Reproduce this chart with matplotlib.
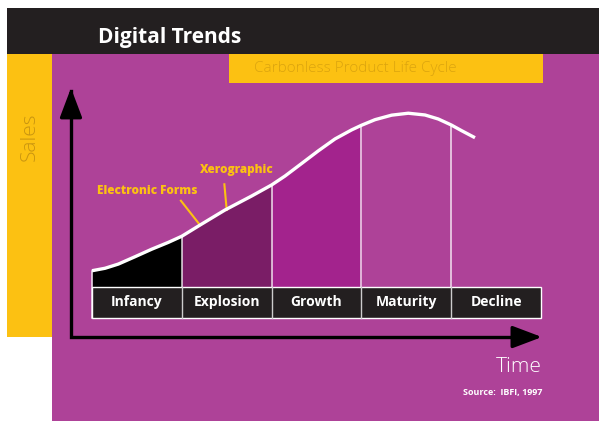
import matplotlib
matplotlib.use("Agg")
import matplotlib.pyplot as plt
from matplotlib.patches import Rectangle

# product life cycle curve (time in stage units, sales in % of peak)
time = [0, 0.145, 0.293, 0.479, 0.665, 0.85, 1.0, 1.203, 1.481, 1.778, 2.0, 2.149,
        2.335, 2.52, 2.706, 2.892, 3.0, 3.151, 3.337, 3.522, 3.708, 3.856, 4.0,
        4.117, 4.265]
sales = [9.3, 10.7, 13.1, 17.3, 21.6, 25.5, 29.0, 35.4, 44.0, 52.0, 58.3, 63.4,
         70.6, 77.8, 84.6, 89.8, 92.4, 95.6, 98.2, 99.3, 98.3, 96.0, 92.6,
         89.3, 85.3]
stages = ["Infancy", "Explosion", "Growth", "Maturity", "Decline"]
stage_fills = ["#000000", "#7a1d66", "#a3238d", None, None]
callouts = ["Electronic Forms", "Xerographic"]

W, H = 599, 421
MAGENTA = "#ae4298"
YELLOW = "#fcc112"
DARK = "#231f20"

fig = plt.figure(figsize=(W / 100, H / 100), dpi=100)
fig.patch.set_facecolor("white")


def px_rect(x0, y0, x1, y1, color):
    fig.add_artist(Rectangle((x0 / W, 1 - y1 / H), (x1 - x0) / W, (y1 - y0) / H,
                             transform=fig.transFigure, color=color, zorder=0, lw=0))


px_rect(52, 54, 599, 421, MAGENTA)
px_rect(7, 8, 599, 54, DARK)
px_rect(7, 54, 52, 337, YELLOW)
px_rect(229, 54, 543, 83, YELLOW)

fig.text(98 / W, 1 - 38 / H, "Digital Trends", color="white", fontsize=15,
         fontweight="bold", family="Open Sans", ha="left", va="center")
fig.text(355 / W, 1 - 69 / H, "Carbonless Product Life Cycle", color="#dba40f",
         fontsize=11, family="Open Sans", fontweight="light", ha="center", va="center")
fig.text(30 / W, 1 - 137 / H, "Sales", color="#c99510", fontsize=15, rotation=90,
         family="Open Sans", fontweight="light", ha="center", va="center")

ax = fig.add_axes([0, 0, 1, 1])
ax.set_xlim(-92 / 89.8, 507 / 89.8)
ax.set_ylim(-134 / 1.75, 287 / 1.75)
ax.axis("off")
ax.patch.set_alpha(0)

# coloured stage areas under the curve
for i, c in enumerate(stage_fills):
    if c is None:
        continue
    xs = [t for t in time if i <= t <= i + 1]
    ys = [s for t, s in zip(time, sales) if i <= t <= i + 1]
    ax.fill_between(xs, 0, ys, color=c, lw=0, zorder=2)

# stage dividers
box_h = 17.7
for i in range(5):
    top = sales[time.index(float(i))]
    ax.plot([i, i], [-box_h, top], color="white", lw=1.1, alpha=0.85, zorder=3)

ax.plot(time, sales, color="white", lw=2.4, solid_capstyle="butt",
        solid_joinstyle="round", zorder=5)

# stage label box
ax.add_patch(Rectangle((0, -box_h), 5, box_h, facecolor=DARK, edgecolor="white",
                       lw=1, zorder=4))
for i in range(1, 5):
    ax.plot([i, i], [-box_h, 0], color="#cccccc", lw=1, zorder=4)
for i, name in enumerate(stages):
    ax.text(i + 0.5, -box_h / 2, name, color="white", fontsize=10, fontweight="bold",
            family="Open Sans", ha="center", va="center", zorder=6)

# axes with arrows
ax_x, ax_y = -0.234, -28.6
ax.plot([ax_x, ax_x, 4.9], [112, ax_y, ax_y], color="black", lw=2.4,
        solid_joinstyle="miter", zorder=6)
head = "-|>,head_length=0.9,head_width=0.34"
ax.annotate("", xy=(ax_x, 113.7), xytext=(ax_x, 100),
            arrowprops=dict(arrowstyle=head, color="black", lw=2.4,
                            mutation_scale=20, shrinkA=0, shrinkB=0), zorder=6)
ax.annotate("", xy=(5.01, ax_y), xytext=(4.8, ax_y),
            arrowprops=dict(arrowstyle=head, color="black", lw=2.4,
                            mutation_scale=20, shrinkA=0, shrinkB=0), zorder=6)

ax.text(5.01, -45.7, "Time", color="white", fontsize=15, family="Open Sans",
        fontweight="light", ha="right", va="center")
ax.text(5.01, -60, "Source:  IBFI, 1997", color="white", fontsize=6.5,
        family="Open Sans", fontweight="bold", ha="right", va="center")

# callouts
ax.text(0.618, 54.9, callouts[0], color=YELLOW, fontsize=8.5, fontweight="heavy",
        family="Open Sans", ha="center", va="center", zorder=6)
ax.plot([0.99, 1.203], [49.3, 35.4], color=YELLOW, lw=1.5, zorder=4)
ax.text(1.609, 66.6, callouts[1], color=YELLOW, fontsize=8.5, fontweight="heavy",
        family="Open Sans", ha="center", va="center", zorder=6)
ax.plot([1.474, 1.5], [58.7, 44.0], color=YELLOW, lw=1.5, zorder=4)

fig.savefig("out.png", dpi=100)
